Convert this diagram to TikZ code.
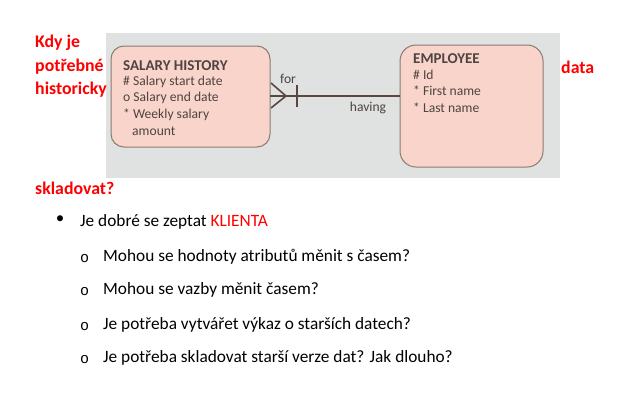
\documentclass[tikz,border=0pt]{standalone}
\usepackage{fontspec}
\setmainfont{Carlito}
\newfontfamily\bulletfont{Liberation Mono}
\begin{document}
\begin{tikzpicture}[x=1pt,y=-1pt,
  redbold/.style={text=red,font=\bfseries\fontsize{17.8}{20}\selectfont,anchor=west,inner sep=0pt},
  entity/.style={draw=erborder,fill=erfill,line width=1pt,rounded corners=13pt},
  ertext/.style={text=ertxt,anchor=west,inner sep=0pt,font=\fontsize{13.6}{15}\selectfont},
  ertitle/.style={ertext,font=\bfseries\fontsize{15}{17}\selectfont},
  rel/.style={draw=erline,line width=1.6pt},
  bodytext/.style={anchor=west,inner sep=0pt,font=\fontsize{17.3}{19}\selectfont},
  subbullet/.style={anchor=center,inner sep=0pt,font=\bulletfont\fontsize{15}{17}\selectfont}]
\definecolor{erfill}{HTML}{F9D4CB}
\definecolor{erborder}{HTML}{8A7A72}
\definecolor{ertxt}{HTML}{4E4440}
\definecolor{erline}{HTML}{5A4840}
\definecolor{panel}{HTML}{E0E1E1}
\useasboundingbox (0,0) rectangle (623,408);

% grey panel behind the ER fragment
\fill[panel] (106,33) rectangle (560,178);

% entities
\draw[entity] (111,46) rectangle (270,147);
\draw[entity,rounded corners=16pt] (400,45) rectangle (543,167);
\coordinate (shR) at (270,96);
\coordinate (emL) at (400,96);

\node[ertitle] (shT) at (123,66) {SALARY HISTORY};
\node[ertext] (sh1) at (123,82) {\# Salary start date};
\node[ertext] (sh2) at (123,98) {o Salary end date};
\node[ertext] (sh3) at (123,115) {* Weekly salary};
\node[ertext] (sh4) at (132,131) {amount};

\node[ertitle] (emT) at (413,59) {EMPLOYEE};
\node[ertext] (em1) at (413,75) {\# Id};
\node[ertext] (em2) at (413,91) {* First name};
\node[ertext] (em3) at (413,108) {* Last name};

% relationship: many (crow's foot) to exactly one
\coordinate (cf) at (286,96);
\draw[rel] (shR) -- (emL);
\draw[rel] (271,83) -- (cf) -- (271,108);
\draw[rel] (297,85) -- (297,107);
\node[ertext] (for) at (280,79) {for};
\node[ertext,anchor=center] (having) at (368,108) {having};

% red question wrapped around the panel
\node[redbold] (q1) at (35,43) {Kdy je};
\node[redbold] (q2) at (35,67) {potřebné};
\node[redbold] (q3) at (35,90) {historicky};
\node[redbold] (q4) at (561,67) {data};
\node[redbold] (q5) at (35,188) {skladovat?};

% bullet list
\node[anchor=center,inner sep=0pt,font=\fontsize{17}{19}\selectfont] (b0) at (60,220) {•};
\node[bodytext] (t0) at (80,222) {Je dobré se zeptat \textcolor{red}{KLIENTA}};
\node[subbullet] (b1) at (84.5,258.5) {o};
\node[bodytext] (t1) at (103,257) {Mohou se hodnoty atributů měnit s časem?};
\node[subbullet] (b2) at (84.5,291.5) {o};
\node[bodytext] (t2) at (103,290) {Mohou se vazby měnit časem?};
\node[subbullet] (b3) at (84.5,326.5) {o};
\node[bodytext] (t3) at (103,325) {Je potřeba vytvářet výkaz o starších datech?};
\node[subbullet] (b4) at (84.5,359.5) {o};
\node[bodytext] (t4) at (103,358) {Je potřeba skladovat starší verze dat? Jak dlouho?};
\end{tikzpicture}
\end{document}
